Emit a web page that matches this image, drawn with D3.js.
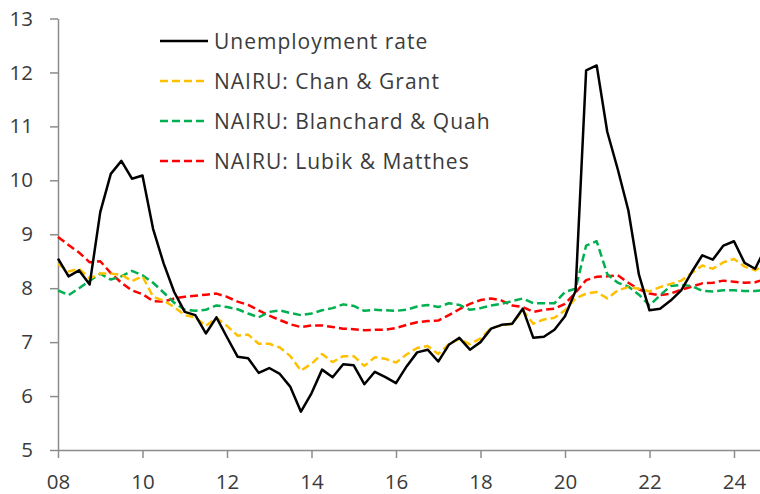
<!DOCTYPE html>
<html>
<head>
<meta charset="utf-8">
<script src="https://cdn.jsdelivr.net/npm/d3@7"></script>
<style>
  body { margin: 0; background: #fff; }
  svg { display: block; }
  text { font-family: "Open Sans", sans-serif; fill: #3b3b3b; }
</style>
</head>
<body>
<svg width="760" height="494"></svg>
<script>
// quarterly data, starting 2008 Q1
const startYear = 2008;

const unemployment = [
  8.55, 8.22, 8.33, 8.07, 9.41, 10.12, 10.36, 10.03, 10.09, 9.10,
  8.46, 7.93, 7.56, 7.50, 7.16, 7.46, 7.09, 6.73, 6.70, 6.43,
  6.52, 6.41, 6.17, 5.71, 6.05, 6.49, 6.35, 6.59, 6.57, 6.22,
  6.45, 6.35, 6.24, 6.55, 6.81, 6.86, 6.64, 6.95, 7.08, 6.86,
  7.00, 7.25, 7.32, 7.34, 7.62, 7.08, 7.10, 7.23, 7.48, 7.95,
  12.04, 12.13, 10.90, 10.20, 9.44, 8.25, 7.59, 7.62, 7.77, 7.96,
  8.30, 8.61, 8.53, 8.79, 8.87, 8.47, 8.36, 8.75
];

const chanGrant = [
  8.45, 8.31, 8.36, 8.18, 8.27, 8.27, 8.25, 8.13, 8.22, 7.84,
  7.77, 7.65, 7.50, 7.46, 7.30, 7.45, 7.30, 7.12, 7.14, 6.97,
  6.97, 6.90, 6.74, 6.47, 6.60, 6.78, 6.63, 6.74, 6.74, 6.56,
  6.72, 6.69, 6.62, 6.77, 6.89, 6.93, 6.78, 6.96, 7.06, 6.96,
  7.07, 7.26, 7.31, 7.34, 7.59, 7.34, 7.42, 7.45, 7.59, 7.81,
  7.90, 7.93, 7.81, 7.96, 8.02, 7.99, 7.94, 8.02, 8.08, 8.14,
  8.28, 8.42, 8.36, 8.48, 8.54, 8.40, 8.33, 8.45
];

const blanchardQuah = [
  7.96, 7.87, 8.00, 8.14, 8.27, 8.16, 8.22, 8.32, 8.24, 8.10,
  7.92, 7.73, 7.60, 7.58, 7.60, 7.68, 7.65, 7.61, 7.53, 7.46,
  7.56, 7.59, 7.54, 7.50, 7.53, 7.59, 7.63, 7.70, 7.67, 7.58,
  7.60, 7.59, 7.58, 7.60, 7.66, 7.69, 7.65, 7.72, 7.69, 7.60,
  7.63, 7.68, 7.71, 7.76, 7.81, 7.72, 7.72, 7.72, 7.93, 7.99,
  8.79, 8.87, 8.26, 8.10, 8.03, 7.88, 7.68, 7.87, 8.04, 8.06,
  8.04, 7.95, 7.94, 7.96, 7.96, 7.95, 7.95, 7.97
];

const lubikMatthes = [
  8.95, 8.80, 8.66, 8.48, 8.50, 8.28, 8.10, 7.96, 7.89, 7.76,
  7.75, 7.81, 7.84, 7.86, 7.88, 7.90, 7.84, 7.75, 7.69, 7.59,
  7.49, 7.41, 7.33, 7.28, 7.31, 7.31, 7.28, 7.25, 7.24, 7.22,
  7.23, 7.23, 7.26, 7.32, 7.37, 7.39, 7.40, 7.50, 7.61, 7.71,
  7.78, 7.81, 7.77, 7.68, 7.65, 7.56, 7.60, 7.62, 7.71, 7.92,
  8.15, 8.21, 8.22, 8.24, 8.10, 7.98, 7.90, 7.87, 7.90, 7.97,
  8.03, 8.09, 8.10, 8.14, 8.12, 8.10, 8.11, 8.17
];

const yTicks = [5, 6, 7, 8, 9, 10, 11, 12, 13];
const xTicks = [2008, 2010, 2012, 2014, 2016, 2018, 2020, 2022, 2024];

const seriesNames = [
  "Unemployment rate",
  "NAIRU: Chan & Grant",
  "NAIRU: Blanchard & Quah",
  "NAIRU: Lubik & Matthes"
];

const series = [
  { name: seriesNames[0], values: unemployment, color: "#000000", dash: null },
  { name: seriesNames[1], values: chanGrant, color: "#FFC000", dash: "8,4" },
  { name: seriesNames[2], values: blanchardQuah, color: "#00B050", dash: "8,4" },
  { name: seriesNames[3], values: lubikMatthes, color: "#FF0000", dash: "8,4" }
];

const svg = d3.select("svg");
const plotLeft = 58, plotRight = 760, plotTop = 18.5, plotBottom = 450;

const x = d3.scaleLinear()
  .domain([startYear, startYear + (plotRight - plotLeft) / 42.25])
  .range([plotLeft, plotRight]);

const y = d3.scaleLinear()
  .domain([5, 13])
  .range([plotBottom, plotTop]);

const axisColor = "#8c8c8c";

// y axis
const gy = svg.append("g")
  .attr("transform", `translate(${plotLeft},0)`)
  .call(d3.axisLeft(y).tickValues(yTicks).tickSize(8).tickSizeOuter(0).tickPadding(17));
gy.select(".domain").attr("stroke", axisColor).attr("stroke-width", 1.5);
gy.selectAll(".tick line").attr("stroke", axisColor).attr("stroke-width", 1.5);
gy.selectAll(".tick text")
  .style("font-size", "20.5px")
  .attr("font-family", null);

// x axis
const gx = svg.append("g")
  .attr("transform", `translate(0,${plotBottom})`)
  .call(d3.axisBottom(x).tickValues(xTicks).tickSize(8).tickSizeOuter(0).tickPadding(16)
    .tickFormat(d => d3.format("02d")(d % 100)));
gx.select(".domain").attr("stroke", axisColor).attr("stroke-width", 1.5);
gx.selectAll(".tick line").attr("stroke", axisColor).attr("stroke-width", 1.5);
gx.selectAll(".tick text")
  .style("font-size", "20.5px")
  .attr("font-family", null);

// lines
const line = d3.line()
  .x((d, i) => x(startYear + i / 4))
  .y(d => y(d));

// draw NAIRU series first, unemployment on top
[series[3], series[2], series[1], series[0]].forEach(s => {
  svg.append("path")
    .datum(s.values)
    .attr("d", line)
    .attr("fill", "none")
    .attr("stroke", s.color)
    .attr("stroke-width", 2.5)
    .attr("stroke-linejoin", "round")
    .attr("stroke-dasharray", s.dash);
});

// legend
const legend = svg.append("g").attr("transform", "translate(160,41)");
series.forEach((s, i) => {
  const row = legend.append("g").attr("transform", `translate(0,${i * 40})`);
  row.append("line")
    .attr("x1", 0).attr("x2", 48)
    .attr("y1", 0).attr("y2", 0)
    .attr("stroke", s.color)
    .attr("stroke-width", 2.5)
    .attr("stroke-dasharray", s.dash);
  row.append("text")
    .attr("x", 54)
    .attr("dy", "0.36em")
    .style("font-size", "21px")
    .style("letter-spacing", "1px")
    .text(s.name);
});
</script>
</body>
</html>
